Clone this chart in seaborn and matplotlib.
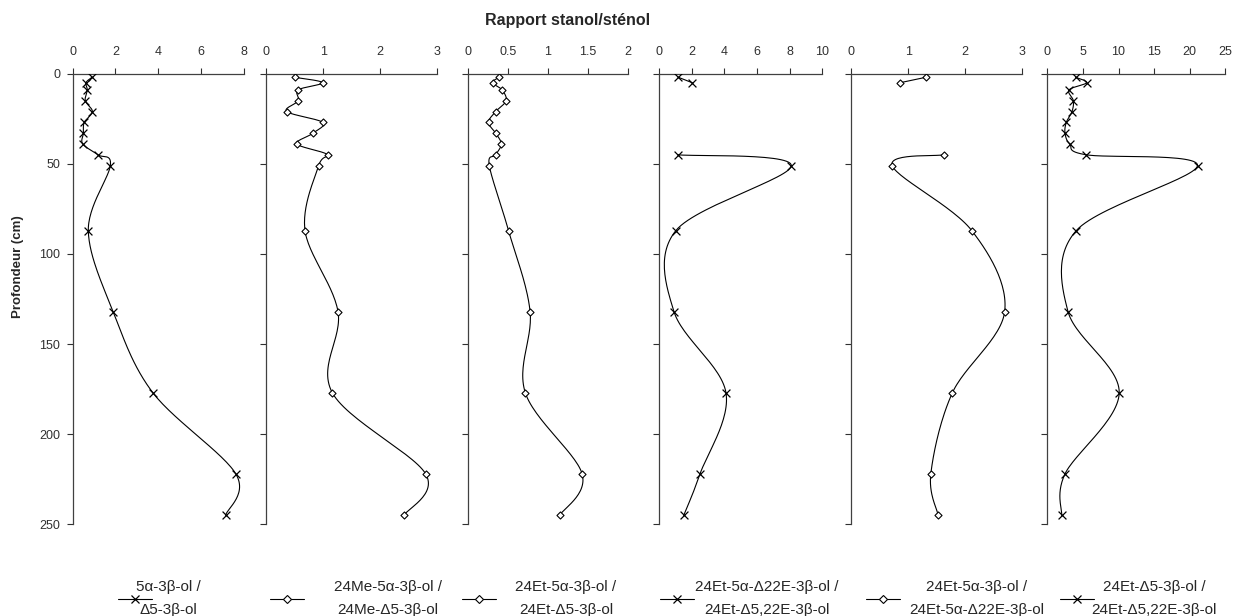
import matplotlib
matplotlib.use('Agg')
import matplotlib.pyplot as plt
import matplotlib.ticker as ticker
from matplotlib.lines import Line2D
import seaborn as sns
import numpy as np

# Données (profondeur en cm, rapports stanol/sténol)
profondeur = [2, 5, 9, 15, 21, 27, 33, 39, 45, 51, 87, 132, 177, 222, 245]

r_5a = [0.90, 0.62, 0.68, 0.59, 0.92, 0.54, 0.50, 0.47, 1.18, 1.76, 0.73, 1.89, 3.75, 7.63, 7.15]
r_24me = [0.50, 0.99, 0.56, 0.56, 0.36, 0.99, 0.82, 0.54, 1.08, 0.92, 0.68, 1.26, 1.16, 2.80, 2.42]
r_24et = [0.39, 0.31, 0.43, 0.48, 0.35, 0.26, 0.35, 0.42, 0.35, 0.27, 0.51, 0.78, 0.72, 1.43, 1.15]
r_24et_22e = [1.17, 2.02, np.nan, np.nan, np.nan, np.nan, np.nan, np.nan, 1.13, 8.10, 1.02, 0.90, 4.09, 2.50, 1.50]
r_24et_a22 = [1.31, 0.86, np.nan, np.nan, np.nan, np.nan, np.nan, np.nan, 1.63, 0.72, 2.12, 2.70, 1.78, 1.40, 1.53]
r_24et_d522 = [3.98, 5.53, 3.05, 3.66, 3.47, 2.67, 2.49, 3.15, 5.48, 21.10, 4.08, 2.91, 10.10, 2.49, 2.02]

series = [r_5a, r_24me, r_24et, r_24et_22e, r_24et_a22, r_24et_d522]
marqueurs = ['x', 'D', 'D', 'x', 'D', 'x']
x_max = [8, 3, 2, 10, 3, 25]
x_pas = [2, 1, 0.5, 2, 1, 5]
legendes = ['5\u03b1-3\u03b2-ol /\n\u03945-3\u03b2-ol',
            '24Me-5\u03b1-3\u03b2-ol /\n24Me-\u03945-3\u03b2-ol',
            '24Et-5\u03b1-3\u03b2-ol /\n24Et-\u03945-3\u03b2-ol',
            '24Et-5\u03b1-\u039422E-3\u03b2-ol /\n24Et-\u03945,22E-3\u03b2-ol',
            '24Et-5\u03b1-3\u03b2-ol /\n24Et-5\u03b1-\u039422E-3\u03b2-ol',
            '24Et-\u03945-3\u03b2-ol /\n24Et-\u03945,22E-3\u03b2-ol']

# Mise en page (pixels)
W, H = 1234, 616
axes_x = [(72.7, 243.7), (266.3, 437.0), (467.7, 627.7), (659.3, 822.3), (851.3, 1021.7), (1047.3, 1225.3)]
y_haut, y_bas = 73.7, 524.3
leg_x = [118, 270, 462, 660, 866, 1060]
leg_pad = [-1.0, 2.0, 1.3, 0.1, 0.6, -0.15]
leg_y = 598.5

sns.set_style('white')
plt.rcParams['font.family'] = ['Liberation Sans', 'DejaVu Sans']


def lisse(x, y, sx, sy, n=30):
    # Courbe lissée façon Excel (Catmull-Rom -> Bézier) calculée en pixels
    pts = np.column_stack([np.asarray(x) * sx, np.asarray(y) * sy])
    if len(pts) < 3:
        return np.asarray(x), np.asarray(y)
    out = []
    t = np.linspace(0, 1, n)[:, None]
    for i in range(len(pts) - 1):
        p0 = pts[i - 1] if i > 0 else pts[i]
        p1, p2 = pts[i], pts[i + 1]
        p3 = pts[i + 2] if i + 2 < len(pts) else pts[i + 1]
        c1 = p1 + (p2 - p0) / 6
        c2 = p2 - (p3 - p1) / 6
        seg = (1 - t) ** 3 * p1 + 3 * (1 - t) ** 2 * t * c1 + 3 * (1 - t) * t ** 2 * c2 + t ** 3 * p2
        out.append(seg if i == 0 else seg[1:])
    out = np.vstack(out)
    return out[:, 0] / sx, out[:, 1] / sy


fig = plt.figure(figsize=(W / 100, H / 100), dpi=100)

for i, (vals, m) in enumerate(zip(series, marqueurs)):
    x0, x1 = axes_x[i]
    ax = fig.add_axes([x0 / W, 1 - y_bas / H, (x1 - x0) / W, (y_bas - y_haut) / H])
    sx = (x1 - x0) / x_max[i]
    sy = (y_bas - y_haut) / 250

    v = np.asarray(vals, dtype=float)
    d = np.asarray(profondeur, dtype=float)
    ok = ~np.isnan(v)
    # tronçons continus (pas de ligne à travers les valeurs manquantes)
    coupures = np.split(np.arange(len(v)), np.where(np.diff(ok.astype(int)) != 0)[0] + 1)
    for idx in coupures:
        if not ok[idx[0]]:
            continue
        xs, ys = lisse(v[idx], d[idx], sx, sy)
        sns.lineplot(x=xs, y=ys, sort=False, estimator=None, color='black', lw=0.8, ax=ax)

    if m == 'x':
        sns.scatterplot(x=v[ok], y=d[ok], marker='x', color='black', s=32, linewidth=0.9, ax=ax, zorder=3)
        h = Line2D([], [], color='black', lw=0.8, marker='x', ms=5.5, mew=0.9)
    else:
        sns.scatterplot(x=v[ok], y=d[ok], marker='D', color='white', edgecolor='black', s=13, linewidth=0.8, ax=ax, zorder=3)
        h = Line2D([], [], color='black', lw=0.8, marker='D', ms=3.6, mfc='white', mec='black', mew=0.8)

    ax.set_xlim(0, x_max[i])
    ax.set_ylim(250, 0)
    ax.set_xticks(np.arange(0, x_max[i] + 1e-9, x_pas[i]))
    ax.set_yticks(range(0, 251, 50))
    ax.xaxis.set_major_formatter(ticker.FormatStrFormatter('%g'))
    ax.xaxis.tick_top()
    ax.tick_params(axis='x', top=True, bottom=False, labeltop=True, labelbottom=False,
                   direction='out', length=4, width=0.8, pad=7.5, labelsize=9, colors='#303030')
    ax.tick_params(axis='y', left=True, direction='out', length=4, width=0.8, pad=5,
                   labelleft=(i == 0), labelsize=9, colors='#303030')
    for s in ['bottom', 'right']:
        ax.spines[s].set_visible(False)
    for s in ['top', 'left']:
        ax.spines[s].set_color('#404040')
        ax.spines[s].set_linewidth(0.9)
    ax.set_xlabel('')
    ax.set_ylabel('')

    leg = ax.legend(handles=[h], labels=[legendes[i]], loc='center left',
                    bbox_to_anchor=(leg_x[i] / W, 1 - leg_y / H), bbox_transform=fig.transFigure,
                    frameon=False, handlelength=2.2, handletextpad=leg_pad[i],
                    borderpad=0, borderaxespad=0, fontsize=11)
    for t in leg.get_texts():
        t.set_multialignment('center')
        t.set_linespacing(1.75)

fig.text(567.5 / W, 1 - 21 / H, 'Rapport stanol/sténol', ha='center', va='center',
         fontweight='bold', fontsize=11.5)
fig.text(18 / W, 1 - 266.5 / H, 'Profondeur (cm)', rotation=90, ha='center', va='center',
         fontweight='bold', fontsize=9.5)

fig.savefig('out.png', dpi=100)
